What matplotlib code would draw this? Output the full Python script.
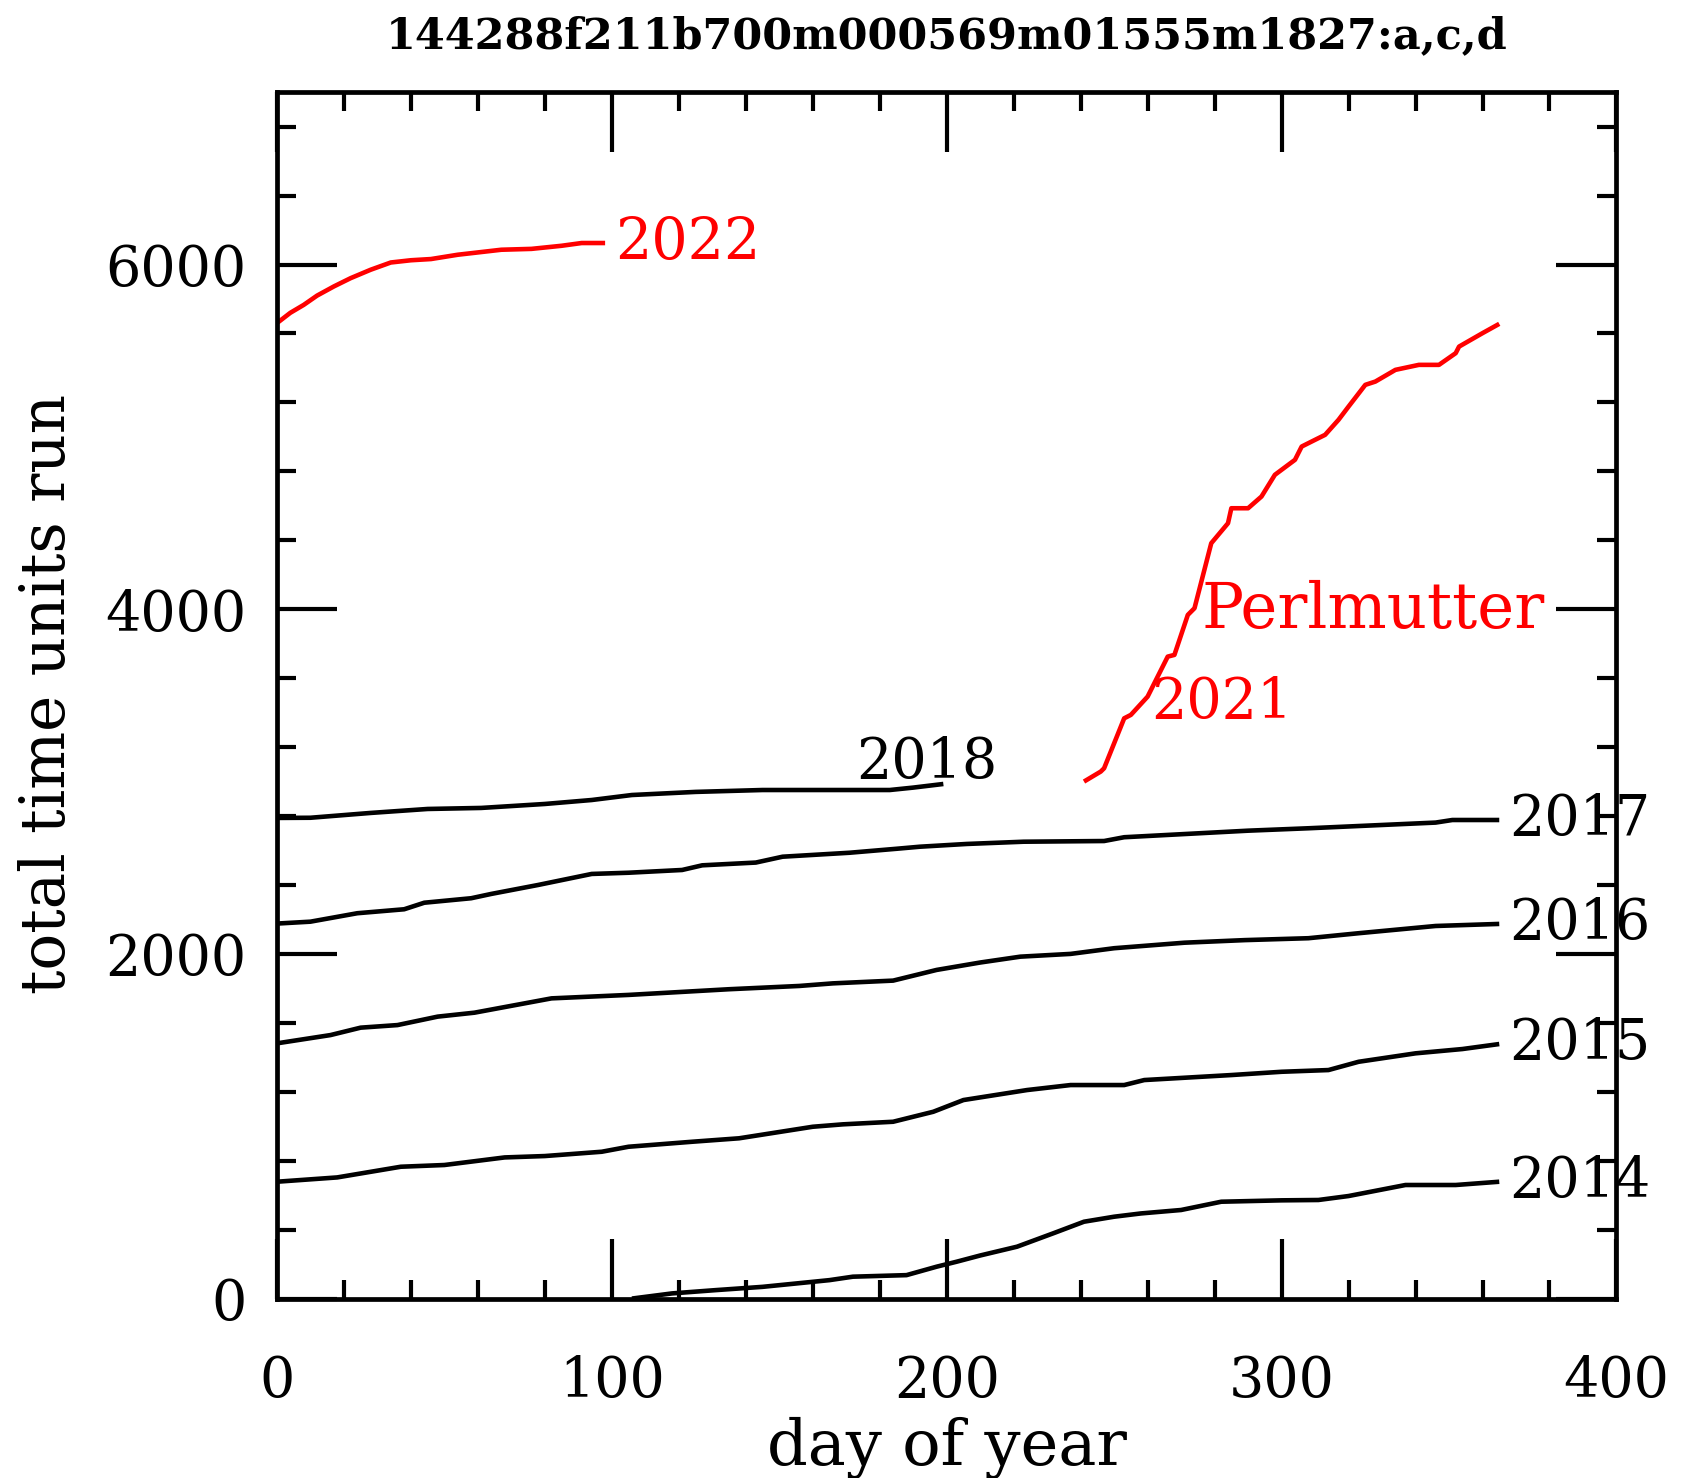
import matplotlib
matplotlib.use("Agg")
import matplotlib.pyplot as plt
from matplotlib.ticker import MultipleLocator

# ---- data ----
d14 = [106, 118, 131, 145, 165, 172, 188, 197, 203, 210, 221, 232, 241, 250, 258, 270, 282, 300, 311, 320, 337, 352, 365]
v14 = [0, 30, 49, 68, 107, 127, 136, 185, 214, 250, 301, 380, 446, 475, 494, 514, 562, 570, 572, 595, 659, 659, 678]

d15 = [0, 18, 37, 50, 68, 80, 97, 105, 124, 138, 160, 169, 184, 196, 205, 224, 237, 253, 259, 285, 300, 314, 323, 340, 354, 365]
v15 = [678, 703, 765, 775, 819, 827, 852, 881, 910, 930, 997, 1011, 1026, 1084, 1152, 1210, 1239, 1239, 1268, 1297, 1316, 1326, 1374, 1423, 1448, 1477]

d16 = [0, 16, 25, 36, 48, 59, 82, 105, 135, 156, 166, 184, 197, 210, 222, 237, 250, 271, 289, 308, 323, 346, 365]
v16 = [1481, 1529, 1572, 1587, 1636, 1659, 1742, 1762, 1795, 1814, 1829, 1845, 1907, 1950, 1984, 2000, 2033, 2065, 2080, 2091, 2120, 2162, 2174]

d17 = [0, 10, 24, 38, 44, 58, 64, 78, 94, 105, 121, 127, 143, 151, 171, 185, 192, 206, 223, 247, 253, 290, 308, 346, 351, 365]
v17 = [2176, 2187, 2236, 2259, 2297, 2323, 2348, 2400, 2464, 2471, 2487, 2514, 2530, 2564, 2587, 2610, 2622, 2638, 2651, 2655, 2677, 2715, 2729, 2762, 2777, 2777]

d18 = [0, 10, 28, 45, 61, 80, 94, 106, 125, 145, 183, 190, 199]
v18 = [2789, 2790, 2818, 2841, 2847, 2870, 2893, 2922, 2940, 2951, 2951, 2965, 2986]

d21 = [241, 246, 247, 253, 255, 260, 266, 268, 272, 274, 279, 284, 285, 290, 294, 298, 304, 306, 310, 313, 317, 320, 325, 328, 334, 341, 347, 352, 353, 360, 365]
v21 = [3000, 3058, 3077, 3367, 3387, 3493, 3725, 3735, 3967, 4006, 4383, 4499, 4586, 4586, 4654, 4780, 4867, 4944, 4983, 5012, 5099, 5176, 5302, 5321, 5389, 5418, 5418, 5486, 5524, 5602, 5656]

d22 = [0, 4, 8, 12, 17, 22, 28, 34, 40, 46, 54, 67, 76, 85, 91, 98]
v22 = [5660, 5720, 5766, 5820, 5873, 5921, 5970, 6012, 6025, 6032, 6057, 6086, 6091, 6109, 6125, 6125]

title = "144288f211b700m000569m01555m1827:a,c,d"
xlabel = "day of year"
ylabel = "total time units run"

FONT = "DejaVu Serif"
plt.rcParams["font.family"] = FONT

fig = plt.figure(figsize=(17.01, 14.78), dpi=100)
ax = fig.add_axes([0.1628, 0.1214, 0.7875, 0.8162])

lw = 3.3
black_series = [(d14, v14), (d15, v15), (d16, v16), (d17, v17), (d18, v18)]
for d, v in black_series:
    ax.plot(d, v, color="black", lw=lw, solid_joinstyle="round", solid_capstyle="butt")
for d, v in [(d21, v21), (d22, v22)]:
    ax.plot(d, v, color="#ff0000", lw=lw, solid_joinstyle="round", solid_capstyle="butt")

ax.set_xlim(0, 400)
ax.set_ylim(0, 7000)

ax.xaxis.set_major_locator(MultipleLocator(100))
ax.xaxis.set_minor_locator(MultipleLocator(20))
ax.yaxis.set_major_locator(MultipleLocator(2000))
ax.yaxis.set_minor_locator(MultipleLocator(400))
ax.tick_params(which="both", direction="in", top=True, right=True, width=3.0, color="black")
ax.tick_params(which="major", length=43)
ax.tick_params(which="minor", length=14)
ax.tick_params(axis="x", which="major", labelsize=40, pad=40)
ax.tick_params(axis="y", which="major", labelsize=40, pad=22)
for s in ax.spines.values():
    s.set_linewidth(3.4)

# series labels
lab_fs = 40
for d, v, t in [(d14, v14, "2014"), (d15, v15, "2015"), (d16, v16, "2016"), (d17, v17, "2017")]:
    ax.text(d[-1] + 3, v[-1], t, fontsize=lab_fs, ha="left", va="center", color="black", clip_on=False)
ax.text(173, 3108, "2018", fontsize=lab_fs, ha="left", va="center", color="black")
ax.text(d22[-1] + 3, v22[-1], "2022", fontsize=41, ha="left", va="center", color="#ff0000")
ax.text(276, 3990, "Perlmutter", fontsize=45, ha="left", va="center", color="#ff0000")
ax.text(261, 3456, "2021", fontsize=lab_fs, ha="left", va="center", color="#ff0000")

fig.text(0.5565, 1 - 36 / 1478, title, fontsize=31, fontweight="bold", ha="center", va="center")
fig.text(0.5565, 1 - 1448 / 1478, xlabel, fontsize=46, ha="center", va="center")
fig.text(48 / 1701, 1 - 694 / 1478, ylabel, fontsize=44, ha="center", va="center", rotation=90)

fig.savefig("out.png", dpi=100)
